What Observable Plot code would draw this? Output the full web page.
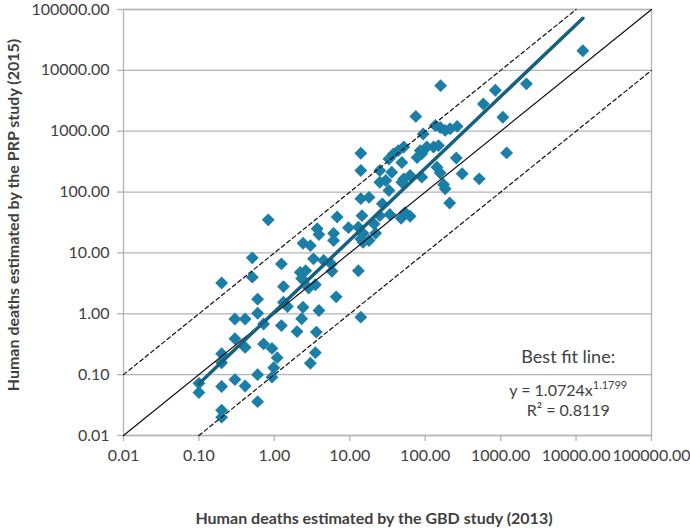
<!DOCTYPE html>
<html><head><meta charset="utf-8">
<script src="https://cdn.jsdelivr.net/npm/d3@7"></script>
<script src="https://cdn.jsdelivr.net/npm/@observablehq/plot@0.6"></script>
<style>body{margin:0;background:#fff;} #chart{width:690px;height:530px;}</style>
</head><body><div id="chart"></div>
<script>
// GBD (2013) estimate per country
const gbd = [12300, 2200, 850, 590, 1070, 1200, 520, 160, 75, 94, 136, 158, 184, 214, 265, 86, 105, 129, 150, 52, 44, 38, 33, 78, 90, 49, 258, 143, 158, 309, 175, 184, 211, 54, 63, 48, 52, 63, 90, 49, 36, 25, 25, 30, 33, 27, 14, 14, 14, 18, 6.8, 14.5, 9.6, 13, 21, 25, 34, 6.1, 15, 18, 22, 15,
  0.83, 0.2, 0.51, 0.51, 1.24, 0.6, 1.32, 0.6, 0.30, 0.41, 0.72, 0.30, 0.41, 0.2, 0.2, 0.72, 0.93, 1.09, 0.98, 0.6, 0.93, 0.30, 0.41, 0.2, 0.10, 0.10, 0.6, 0.2, 0.2, 1.24, 1.32, 1.49, 2.0, 2.3, 2.4, 3.6, 3.5, 3.0, 3.9, 2.2, 2.6, 2.3, 3.5, 2.85, 3.3, 4.5, 5.7, 5.8, 2.4, 3.0, 3.7, 3.9, 6.1, 6.6, 13, 14, 14];
// PRP (2015) estimate per country
const prp = [21000, 6000, 4700, 2800, 1700, 440, 165, 5600, 1750, 900, 1240, 1150, 1030, 1100, 1200, 480, 550, 550, 580, 550, 480, 425, 350, 370, 425, 306, 363, 256, 206, 200, 133, 113, 66, 46, 40, 37, 165, 187, 176, 145, 212, 226, 145, 155, 106, 64, 435, 226, 78, 82, 39, 41, 26, 26.5, 30, 41, 43, 21, 21, 16, 21, 15,
  35, 3.2, 8.3, 4.0, 6.6, 1.74, 2.8, 1.02, 0.82, 0.82, 0.68, 0.39, 0.28, 0.22, 0.157, 0.32, 0.27, 0.19, 0.13, 0.10, 0.091, 0.083, 0.065, 0.064, 0.072, 0.051, 0.036, 0.026, 0.020, 0.64, 1.55, 1.32, 0.51, 0.83, 1.28, 0.50, 0.23, 0.154, 1.13, 4.8, 5.1, 3.8, 3.0, 2.65, 8.0, 7.5, 6.6, 5.0, 14.4, 13.2, 25, 20, 16, 1.9, 5.1, 0.88, 17];

const tickValues = [0.01, 0.1, 1, 10, 100, 1000, 10000, 100000];
const refRatios = [1, 10, 0.1];           // y = x, y = 10x, y = 0.1x
const fitA = 1.0724, fitB = 1.1799;       // y = a x^b
const xTitle = "Human deaths estimated by the GBD study (2013)";
const yTitle = "Human deaths estimated by the PRP study (2015)";
const noteTitle = "Best fit line:";
const noteEq = "y = 1.0724x";
const noteExp = "1.1799";
const noteR2 = "R\u00B2 = 0.8119";

const ptColor = "#1b7ea6";
const fitColor = "#17607e";
const gridColor = "#b4b4b4";
const textColor = "#404040";

const points = gbd.map((x, i) => ({x, y: prp[i]}));
const dom = d3.extent(tickValues);
const refLines = refRatios.flatMap(k => {
  const x0 = Math.max(dom[0], dom[0] / k), x1 = Math.min(dom[1], dom[1] / k);
  return [{k, x: x0, y: k * x0}, {k, x: x1, y: k * x1}];
});
const fitExt = d3.extent(gbd);
const fitPts = fitExt.map(x => ({x, y: fitA * Math.pow(x, fitB)}));
const fmt = d => d.toFixed(2);

const plot = Plot.plot({
  width: 690, height: 530,
  marginLeft: 123, marginRight: 39, marginTop: 9, marginBottom: 95,
  style: {fontFamily: "Lato, sans-serif", fontSize: "16px", color: textColor, background: "#fff", overflow: "visible"},
  x: {type: "log", domain: dom},
  y: {type: "log", domain: dom},
  marks: [
    Plot.gridY(tickValues, {stroke: gridColor, strokeOpacity: 1, strokeWidth: 1.3}),
    Plot.frame({stroke: gridColor, strokeWidth: 1.3}),
    Plot.axisX(tickValues, {tickFormat: fmt, tickSize: 6, tickPadding: 8, stroke: gridColor, strokeWidth: 1.3, fill: textColor, fontSize: 16, label: null}),
    Plot.axisY(tickValues, {tickFormat: fmt, tickSize: 6, tickPadding: 8, stroke: gridColor, strokeWidth: 1.3, fill: textColor, fontSize: 16, label: null}),
    Plot.dot(points, {x: "x", y: "y", symbol: "diamond2", r: 5.8, fill: ptColor, stroke: "none"}),
    Plot.line(refLines.filter(d => d.k === 1), {x: "x", y: "y", stroke: "#111", strokeWidth: 1.2}),
    Plot.line(refLines.filter(d => d.k !== 1), {x: "x", y: "y", z: "k", stroke: "#111", strokeWidth: 1.2, strokeDasharray: "4,3"}),
    Plot.line(fitPts, {x: "x", y: "y", stroke: fitColor, strokeWidth: 3.5}),
  ]
});

const svg = d3.select(plot);
const sx = plot.scale("x"), sy = plot.scale("y");
// axis titles
svg.append("text").attr("x", 374).attr("y", 524).attr("text-anchor", "middle")
  .attr("font-weight", "bold").attr("font-size", 16).attr("fill", textColor).text(xTitle);
svg.append("text").attr("transform", "translate(15,215) rotate(-90)").attr("text-anchor", "middle")
  .attr("dominant-baseline", "middle")
  .attr("font-weight", "bold").attr("font-size", 16).attr("fill", textColor).text(yTitle);
// annotation
const noteX = sx.apply(8000);
svg.append("text").attr("x", noteX).attr("y", sy.apply(0.18)).attr("text-anchor", "middle")
  .attr("dominant-baseline", "middle").attr("font-size", 18).attr("fill", textColor).text(noteTitle);
const eq = svg.append("text").attr("x", noteX).attr("y", sy.apply(0.051)).attr("text-anchor", "middle")
  .attr("dominant-baseline", "middle").attr("font-size", 16).attr("fill", textColor);
eq.append("tspan").text(noteEq);
eq.append("tspan").attr("dy", -6).attr("font-size", 11).text(noteExp);
svg.append("text").attr("x", noteX).attr("y", sy.apply(0.024)).attr("text-anchor", "middle")
  .attr("dominant-baseline", "middle").attr("font-size", 16).attr("fill", textColor).text(noteR2);

document.getElementById("chart").appendChild(plot);
</script>
</body></html>
